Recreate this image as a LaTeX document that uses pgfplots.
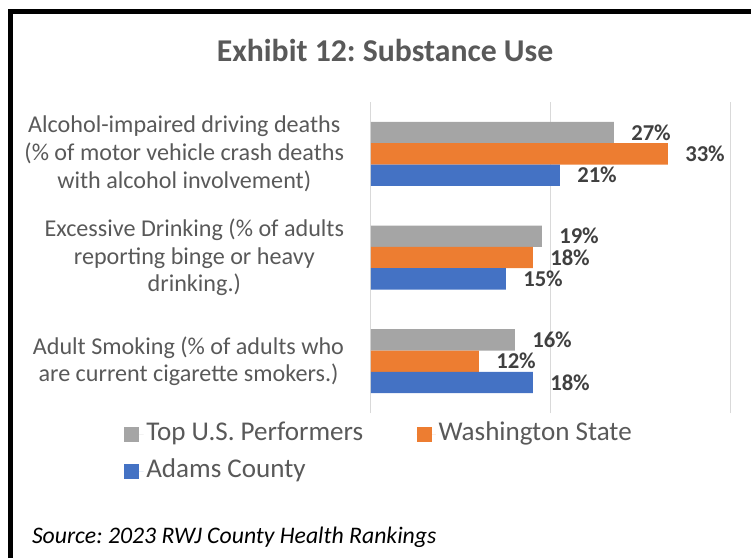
\documentclass[border=0pt]{standalone}
\usepackage{pgfplots}
\pgfplotsset{compat=1.18}
\usepackage{fontspec}
\setmainfont{Carlito}
\frenchspacing

\definecolor{topgray}{HTML}{A5A5A5}
\definecolor{waorange}{HTML}{ED7D31}
\definecolor{adblue}{HTML}{4472C4}
\definecolor{txtgray}{HTML}{595959}
\definecolor{lblgray}{HTML}{404040}
\definecolor{gridgray}{HTML}{D9D9D9}

\begin{document}
\begin{tikzpicture}
\useasboundingbox (0,0) rectangle (563.25pt,418.5pt);
% frame (left and top only)
\draw[line width=3.4pt] (7.9pt,0) -- (7.9pt,409.9pt) -- (563.25pt,409.9pt);
\node[anchor=base, inner sep=0pt, text=txtgray, font=\fontsize{23.8}{28}\selectfont\bfseries]
  at (288.75pt,372.2pt) {Exhibit 12: Substance Use};
\node[anchor=base west, inner sep=0pt, font=\fontsize{17.8}{21}\selectfont\itshape]
  at (23.8pt,11pt) {Source: 2023 RWJ County Health Rankings};

\begin{axis}[
    at={(278.25pt,108.75pt)}, anchor=south west,
    width=270pt, height=233.25pt, scale only axis,
    xbar, bar width=16pt,
    xmin=0, xmax=40, ymin=-0.5, ymax=2.5,
    xtick={0,20,40}, xticklabels={},
    ytick={0,1,2},
    yticklabels={
      {Adult Smoking (\% of adults who\\are current cigarette smokers.)},
      {Excessive Drinking (\% of adults\\reporting binge or heavy\\drinking.)},
      {Alcohol-impaired driving deaths\\(\% of motor vehicle crash deaths\\with alcohol involvement)}},
    major tick length=0pt,
    axis line style={draw=none},
    xmajorgrids,
    grid style={draw=gridgray, line width=0.75pt},
    yticklabel style={align=center, anchor=east, inner sep=0pt, xshift=-20pt,
      text=txtgray, font=\fontsize{18.1}{20.8}\selectfont},
    point meta=x,
    /pgf/number format/assume math mode=true,
    nodes near coords={\pgfmathprintnumber{\pgfplotspointmeta}\%},
    every node near coord/.append style={anchor=west, inner sep=0pt, xshift=12.75pt,
      text=lblgray, font=\fontsize{17}{20}\selectfont\bfseries},
    clip=false,
    legend columns=2,
    legend cell align=left,
    legend image code/.code={\fill[#1] (0pt,-5.6pt) rectangle (11.25pt,5.6pt);
      \path (0pt,0pt) -- (14.5pt,0pt);},
    legend style={at={(-0.686,-0.0225)}, anchor=north west, draw=none, inner sep=0pt,
      font=\fontsize{20.3}{24}\selectfont, text=txtgray, row sep=7pt,
      /tikz/every even column/.append style={column sep=38pt},
      nodes={text height=13pt, text depth=4pt, inner ysep=2pt}},
]
\addplot[fill=topgray, draw=none, bar shift=16pt] coordinates {(27,2) (19,1) (16,0)};
\addlegendentry{Top U.S. Performers}
\addplot[fill=waorange, draw=none, bar shift=0pt] coordinates {(33,2) (18,1) (12,0)};
\addlegendentry{Washington State}
\addplot[fill=adblue, draw=none, bar shift=-16pt] coordinates {(21,2) (15,1) (18,0)};
\addlegendentry{Adams County}
\end{axis}
\end{tikzpicture}
\end{document}
